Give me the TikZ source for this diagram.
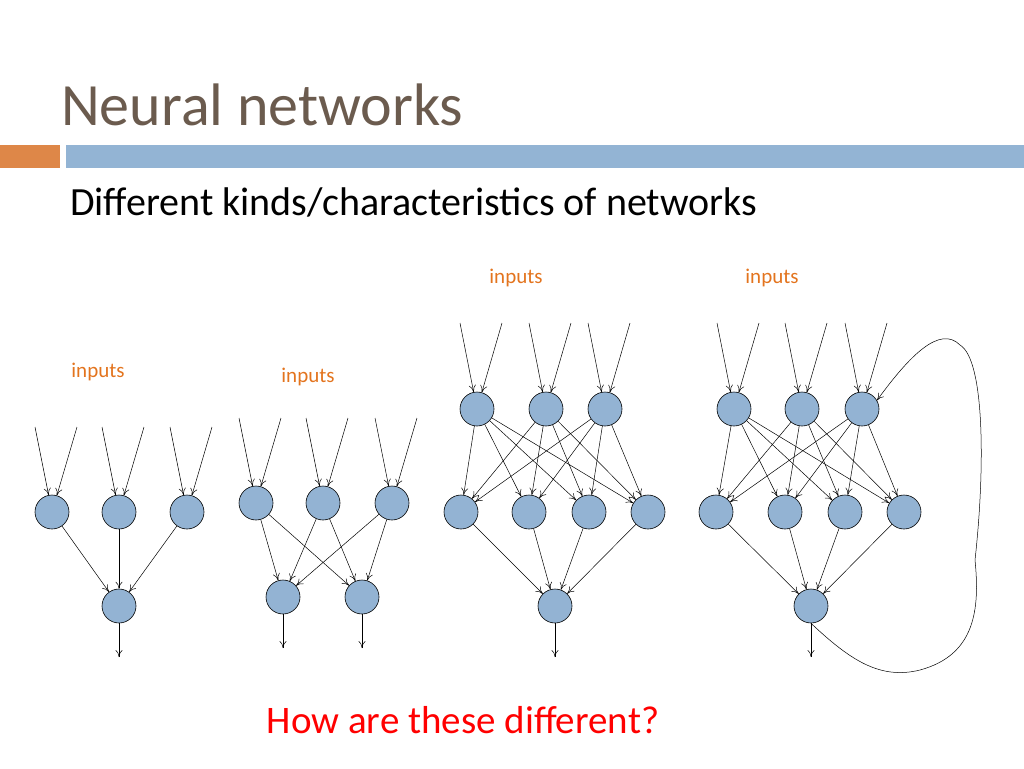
\documentclass[tikz,border=0pt]{standalone}
\usepackage{fontspec}
\setmainfont{Carlito}
\usetikzlibrary{arrows.meta}
\definecolor{titlec}{HTML}{6B5B4E}
\definecolor{barblue}{HTML}{93B4D4}
\definecolor{barorange}{HTML}{DE8748}
\definecolor{nodeblue}{HTML}{93B3D3}
\definecolor{inorange}{HTML}{E3741E}
\begin{document}
\begin{tikzpicture}[x=1pt,y=-1pt,
  nn/.style={circle,draw=black,fill=nodeblue,minimum size=34pt,inner sep=0pt,line width=0.6pt},
  ar/.style={-{To[length=7pt,width=7pt]},line width=0.5pt},
  inl/.style={text=inorange,font=\fontsize{21}{24}\selectfont}]
\useasboundingbox (0,0) rectangle (1024,768);
\fill[barorange] (0,145) rectangle (60,168);
\fill[barblue] (66,145) rectangle (1024,168);
\node[anchor=base west,text=titlec,font=\fontsize{60}{70}\selectfont,inner sep=0] (title) at (61,125) {Neural networks};
\node[anchor=base west,font=\fontsize{40}{46}\selectfont,inner sep=0] (sub) at (70,215) {Different kinds/characteristics of networks};
\node[text=red,font=\fontsize{39}{44}\selectfont] (q) at (463,720) {How are these different?};
% net 1
\node[inl] (l1) at (98,372) {inputs};
\foreach \i/\x in {1/52,2/119,3/187} {
  \node[nn] (a\i) at (\x,512) {};
  \coordinate (a\i l) at (\x-17,427); \coordinate (a\i r) at (\x+25,427);
  \draw[ar] (a\i l) -- (a\i); \draw[ar] (a\i r) -- (a\i);}
\node[nn] (ao) at (119,606) {};
\foreach \i in {1,2,3} \draw[ar] (a\i) -- (ao);
\coordinate (aoe) at (119,657); \draw[ar] (ao) -- (aoe);
% net 2
\node[inl] (l2) at (308,377) {inputs};
\foreach \i/\x in {1/256,2/323,3/392} {
  \node[nn] (b\i) at (\x,503) {};
  \coordinate (b\i l) at (\x-17,418); \coordinate (b\i r) at (\x+25,418);
  \draw[ar] (b\i l) -- (b\i); \draw[ar] (b\i r) -- (b\i);}
\node[nn] (bo1) at (283,597) {};
\node[nn] (bo2) at (362,597) {};
\foreach \i in {1,2,3} {\draw[ar] (b\i) -- (bo1); \draw[ar] (b\i) -- (bo2);}
\coordinate (bo1e) at (283,648); \draw[ar] (bo1) -- (bo1e);
\coordinate (bo2e) at (362,648); \draw[ar] (bo2) -- (bo2e);
% net 3
\node[inl] (l3) at (516,278) {inputs};
\foreach \i/\x in {1/477,2/546,3/605} {
  \node[nn] (c\i) at (\x,409) {};
  \coordinate (c\i l) at (\x-17,323); \coordinate (c\i r) at (\x+25,323);
  \draw[ar] (c\i l) -- (c\i); \draw[ar] (c\i r) -- (c\i);}
\foreach \j/\x in {1/461,2/529,3/589,4/648} \node[nn] (ch\j) at (\x,512) {};
\foreach \i in {1,2,3} \foreach \j in {1,2,3,4} \draw[ar] (c\i) -- (ch\j);
\node[nn] (co) at (555,606) {};
\foreach \j in {1,2,3,4} \draw[ar] (ch\j) -- (co);
\coordinate (coe) at (555,657); \draw[ar] (co) -- (coe);
% net 4
\node[inl] (l4) at (772,278) {inputs};
\foreach \i/\x in {1/734,2/802,3/862} {
  \node[nn] (d\i) at (\x,409) {};
  \coordinate (d\i l) at (\x-17,323); \coordinate (d\i r) at (\x+25,323);
  \draw[ar] (d\i l) -- (d\i); \draw[ar] (d\i r) -- (d\i);}
\foreach \j/\x in {1/716,2/785,3/845,4/904} \node[nn] (dh\j) at (\x,512) {};
\foreach \i in {1,2,3} \foreach \j in {1,2,3,4} \draw[ar] (d\i) -- (dh\j);
\node[nn] (do) at (811,606) {};
\foreach \j in {1,2,3,4} \draw[ar] (dh\j) -- (do);
\coordinate (doe) at (811,657); \draw[ar] (do) -- (doe);
\coordinate (r1) at (975,560); \coordinate (r2) at (960,345);
\draw[ar] (do.south) .. controls (850,660) and (880,680) .. (920,670)
  .. controls (975,655) and (980,610) .. (r1)
  .. controls (985,470) and (985,360) .. (r2)
  .. controls (940,325) and (910,355) .. (d3.30);
\end{tikzpicture}
\end{document}
